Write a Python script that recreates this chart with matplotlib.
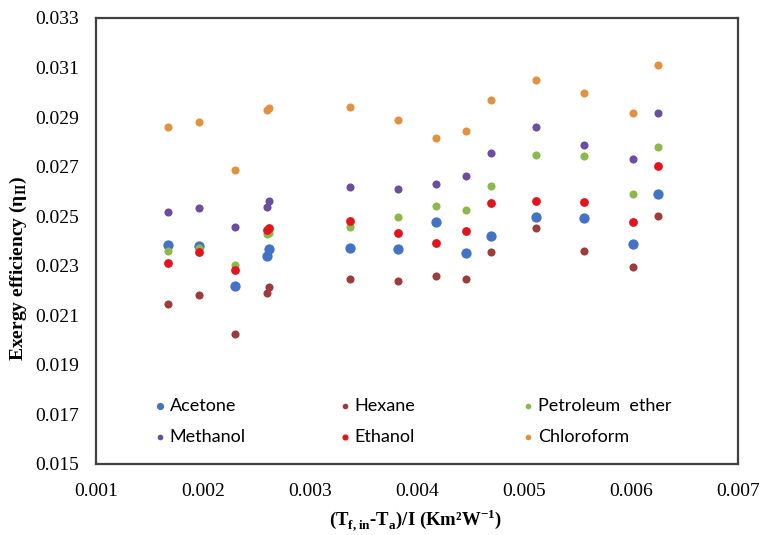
import matplotlib
matplotlib.use('Agg')
import matplotlib.pyplot as plt
from matplotlib.legend import Legend

plt.rcParams['mathtext.fontset'] = 'custom'
plt.rcParams['mathtext.rm'] = 'Liberation Serif'
plt.rcParams['mathtext.bf'] = 'Liberation Serif:bold'

# x positions (Tf,in - Ta)/I
x_vals = [0.00167, 0.00196, 0.00230, 0.00260, 0.00262, 0.00337, 0.00382,
          0.00418, 0.00446, 0.00469, 0.00511, 0.00556, 0.00602, 0.00625]

acetone = [0.02384, 0.02380, 0.02216, 0.02339, 0.02368, 0.02373, 0.02367,
           0.02477, 0.02352, 0.02419, 0.02497, 0.02492, 0.02388, 0.02591]
hexane = [0.02144, 0.02182, 0.02025, 0.02191, 0.02213, 0.02245, 0.02240,
          0.02260, 0.02245, 0.02354, 0.02454, 0.02360, 0.02296, 0.02501]
petroleum_ether = [0.02360, 0.02373, 0.02303, 0.02427, 0.02432, 0.02458, 0.02496,
                   0.02541, 0.02526, 0.02621, 0.02746, 0.02742, 0.02590, 0.02777]
methanol = [0.02516, 0.02532, 0.02458, 0.02536, 0.02563, 0.02617, 0.02610,
            0.02631, 0.02662, 0.02756, 0.02860, 0.02787, 0.02730, 0.02917]
ethanol = [0.02312, 0.02354, 0.02282, 0.02445, 0.02451, 0.02479, 0.02433,
           0.02391, 0.02439, 0.02553, 0.02563, 0.02557, 0.02475, 0.02704]
chloroform = [0.02860, 0.02880, 0.02688, 0.02928, 0.02936, 0.02940, 0.02886,
              0.02815, 0.02845, 0.02970, 0.03049, 0.02996, 0.02917, 0.03110]

series = [
    ('Acetone', acetone, '#4472C4', 55),
    ('Hexane', hexane, '#9E3B3B', 34),
    ('Petroleum  ether', petroleum_ether, '#8DB84A', 34),
    ('Methanol', methanol, '#6B4E9E', 34),
    ('Ethanol', ethanol, '#E3141C', 40),
    ('Chloroform', chloroform, '#E3913E', 34),
]

x_ticks = [0.001, 0.002, 0.003, 0.004, 0.005, 0.006, 0.007]
y_ticks = [0.015, 0.017, 0.019, 0.021, 0.023, 0.025, 0.027, 0.029, 0.031, 0.033]

fig = plt.figure(figsize=(7.62, 5.35), dpi=100)
ax = fig.add_axes([0.126, 0.133, 0.8425, 0.8335])

handles = []
for name, vals, col, size in series:
    h = ax.scatter(x_vals, vals, s=size, color=col, label=name, linewidths=0)
    handles.append(h)

ax.set_xlim(0.001, 0.007)
ax.set_ylim(0.015, 0.033)
ax.set_xticks(x_ticks)
ax.set_yticks(y_ticks)
ax.set_xticklabels([f'{v:.3f}' for v in x_ticks], fontfamily='Liberation Serif', fontsize=14)
ax.set_yticklabels([f'{v:.3f}' for v in y_ticks], fontfamily='Liberation Serif', fontsize=14)
ax.tick_params(axis='x', length=0, pad=14)
ax.tick_params(axis='y', length=0, pad=12)
for sp in ax.spines.values():
    sp.set_color('#404040')
    sp.set_linewidth(1.6)

fig.text(0.545, 1 - 520 / 535,
         r'(T$_{\mathbf{f,in}}$-T$_{\mathbf{a}}$)/I (Km²W$^{\mathbf{-1}}$)',
         fontfamily='Liberation Serif', fontweight='bold', fontsize=13.5,
         ha='center', va='center')
ax.set_ylabel(r'Exergy efficiency (η$_{\mathbf{II}}$)',
              fontfamily='Liberation Serif', fontweight='bold', fontsize=14)
ax.yaxis.set_label_coords(-0.104, 0.437)

# legend: three columns placed separately (row 1: first three series, row 2: last three)
col_x = [0.085, 0.373, 0.659]
for i, cx in enumerate(col_x):
    pair = [handles[i], handles[i + 3]]
    leg = Legend(ax, pair, [h.get_label() for h in pair], loc='upper left',
                 bbox_to_anchor=(cx, 0.148), frameon=False,
                 prop={'family': 'Lato', 'size': 13}, markerscale=0.7,
                 handletextpad=0.05, labelspacing=0.85, handlelength=1.0,
                 borderpad=0, borderaxespad=0)
    ax.add_artist(leg)

fig.savefig('out.png', dpi=100)
